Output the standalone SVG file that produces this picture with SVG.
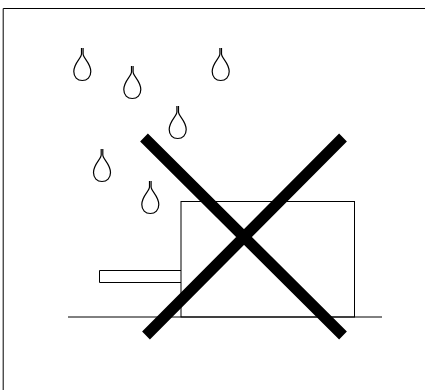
<svg xmlns="http://www.w3.org/2000/svg" width="425" height="390" viewBox="0 0 425 390">
<style>
.l{fill:none;stroke:#000;stroke-width:1}
.d{fill:none;stroke:#000;stroke-width:1.200}
.x{fill:none;stroke:#000;stroke-width:11}
</style>
<defs>
<path id="drop" class="d" d="M-0.800 0V6C-0.800 10 -8.500 15 -8.500 23.500C-8.500 29 -5 32.500 0 32.500C5 32.500 8.500 29 8.500 23.500C8.500 15 0.800 10 0.800 6V0"/>
</defs>
<rect width="425" height="390" fill="#fff"/>
<path class="l" d="M3.200 390V8.500H425"/>
<g id="drops">
<use href="#drop" x="82.300" y="48"/>
<use href="#drop" x="132.300" y="66"/>
<use href="#drop" x="220.700" y="48"/>
<use href="#drop" x="177.700" y="106"/>
<use href="#drop" x="102" y="149"/>
<use href="#drop" x="150.300" y="181"/>
</g>
<g id="machine">
<rect class="l" x="181" y="201.500" width="173.500" height="115.500"/>
<path class="l" d="M181 270.500H99.500V282.500H181"/>
<path class="l" d="M68 317H382"/>
</g>
<path id="cross" class="x" d="M144 137.500L343 335.500M343 137.500L146 335.500"/>
</svg>
